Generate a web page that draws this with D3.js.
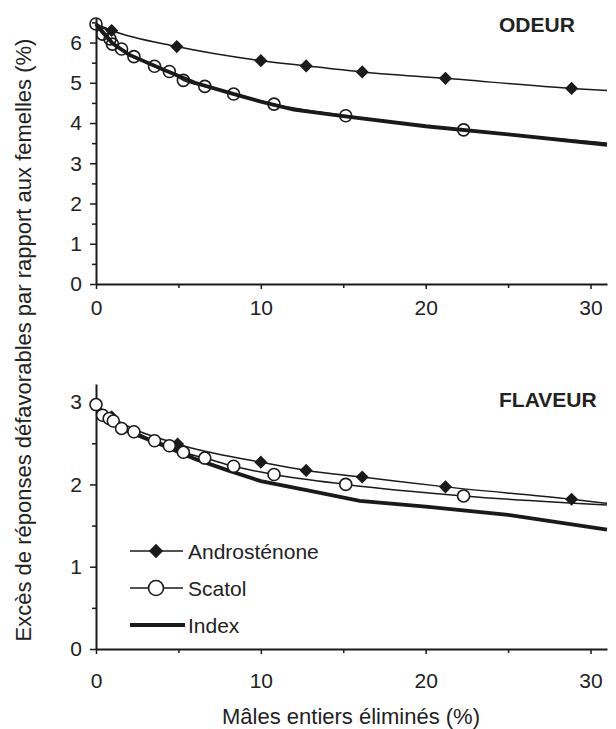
<!DOCTYPE html>
<html>
<head>
<meta charset="utf-8">
<script src="https://cdn.jsdelivr.net/npm/d3@7"></script>
<style>
  body { margin: 0; background: #fff; }
  svg text { font-family: Arial, "Liberation Sans", sans-serif; fill: #222; }
</style>
</head>
<body>
<div id="chart"></div>
<script>
// ODEUR panel: the first (x = 0) and last (x = 31) entries are curve ends
var odeurAndroX = [0, 0.95, 4.9, 10.0, 12.75, 16.15, 21.2, 28.85, 31];
var odeurAndroY = [6.46, 6.30, 5.90, 5.55, 5.42, 5.27, 5.11, 4.86, 4.81];
var odeurScatolX = [0, 0.4, 0.85, 1.0, 1.55, 2.3, 3.55, 4.45, 5.3, 6.6, 8.35, 10.8, 15.15, 22.3, 31];
var odeurScatolY = [6.46, 6.21, 6.09, 5.96, 5.84, 5.65, 5.41, 5.28, 5.06, 4.91, 4.72, 4.47, 4.18, 3.83, 3.50];
var odeurIndexX = [0, 1, 2, 4, 6, 8, 10, 12, 15, 20, 25, 31];
var odeurIndexY = [6.46, 5.98, 5.70, 5.34, 5.00, 4.76, 4.53, 4.33, 4.17, 3.92, 3.72, 3.46];

// FLAVEUR panel
var flavAndroX = [0, 0.95, 4.95, 10.0, 12.75, 16.15, 21.2, 28.85, 31];
var flavAndroY = [2.96, 2.82, 2.49, 2.27, 2.17, 2.09, 1.97, 1.82, 1.77];
var flavScatolX = [0, 0.4, 0.8, 1.05, 1.55, 2.3, 3.55, 4.45, 5.3, 6.6, 8.35, 10.8, 15.15, 22.3, 31];
var flavScatolY = [2.97, 2.84, 2.80, 2.77, 2.68, 2.64, 2.53, 2.47, 2.39, 2.32, 2.22, 2.12, 2.00, 1.86, 1.75];
var flavIndexX = [0, 1, 2, 4, 6, 8, 10, 13, 16, 20, 25, 31];
var flavIndexY = [2.96, 2.77, 2.64, 2.48, 2.31, 2.17, 2.04, 1.92, 1.80, 1.73, 1.63, 1.45];

var xTicks = [0, 10, 20, 30];
var xMinor = [5, 15, 25];
var odeurTicks = [0, 1, 2, 3, 4, 5, 6];
var flavTicks = [0, 1, 2, 3];
var seriesNames = ["Androsténone", "Scatol", "Index"];

var width = 616, height = 729;
var ink = "#1a1a1a";

var svg = d3.select("#chart").append("svg")
    .attr("width", width)
    .attr("height", height);

var x = d3.scaleLinear().domain([0, 31]).range([96, 607]);

function zip(xs, ys) {
    return xs.map(function (v, i) { return { x: v, y: ys[i] }; });
}

function drawPanel(opts) {
    var y = d3.scaleLinear().domain([0, opts.yMax]).range([opts.bottom, opts.top]);
    var g = svg.append("g");

    // minor ticks at the half units
    var minorY = d3.range(0.5, opts.yMax, 1);
    g.append("g")
        .attr("transform", "translate(96,0)")
        .call(d3.axisLeft(y).tickValues(minorY).tickSize(4).tickFormat(""))
        .call(function (a) { a.select(".domain").remove(); });

    var ya = g.append("g")
        .attr("transform", "translate(96,0)")
        .call(d3.axisLeft(y).tickValues(opts.ticks).tickSize(6).tickSizeOuter(0).tickPadding(8).tickFormat(d3.format("d")));
    ya.selectAll("text").style("font-size", "21px");

    g.append("g")
        .attr("transform", "translate(0," + opts.bottom + ")")
        .call(d3.axisBottom(x).tickValues(xMinor).tickSize(4).tickFormat(""))
        .call(function (a) { a.select(".domain").remove(); });

    var xa = g.append("g")
        .attr("transform", "translate(0," + opts.bottom + ")")
        .call(d3.axisBottom(x).tickValues(xTicks).tickSize(5).tickSizeOuter(0).tickPadding(opts.xPad));
    xa.selectAll("text").style("font-size", "21px");

    g.selectAll(".domain").attr("stroke", ink).attr("stroke-width", 2);
    g.selectAll(".tick line").attr("stroke", ink).attr("stroke-width", 1.5);

    var smooth = d3.line().x(function (d) { return x(d.x); }).y(function (d) { return y(d.y); })
        .curve(d3.curveMonotoneX);
    var straight = d3.line().x(function (d) { return x(d.x); }).y(function (d) { return y(d.y); });

    var andro = zip(opts.andro[0], opts.andro[1]);
    var scatol = zip(opts.scatol[0], opts.scatol[1]);
    var index = zip(opts.index[0], opts.index[1]);

    g.append("path").datum(andro).attr("d", smooth)
        .attr("fill", "none").attr("stroke", ink).attr("stroke-width", 1.5);
    g.append("path").datum(scatol).attr("d", smooth)
        .attr("fill", "none").attr("stroke", ink).attr("stroke-width", 1.5);
    g.append("path").datum(index).attr("d", straight)
        .attr("fill", "none").attr("stroke", ink).attr("stroke-width", 3.8);

    // diamonds (skip curve ends)
    g.selectAll(".dia").data(andro.slice(1, -1)).enter().append("path")
        .attr("d", d3.symbol().type(d3.symbolDiamond2).size(110))
        .attr("transform", function (d) { return "translate(" + x(d.x) + "," + y(d.y) + ")"; })
        .attr("fill", ink);

    // circles (skip last curve end)
    g.selectAll(".circ").data(scatol.slice(0, -1)).enter().append("circle")
        .attr("cx", function (d) { return x(d.x); })
        .attr("cy", function (d) { return y(d.y); })
        .attr("r", 6)
        .attr("fill", opts.circleFill)
        .attr("stroke", ink)
        .attr("stroke-width", 1.6);

    g.append("text")
        .attr("x", 499)
        .attr("y", opts.titleY)
        .style("font-size", "21px")
        .style("font-weight", "bold")
        .text(opts.title);

    return y;
}

drawPanel({
    title: "ODEUR", titleY: 32, yMax: 6.6, top: 18.4, bottom: 284, ticks: odeurTicks, xPad: 11,
    andro: [odeurAndroX, odeurAndroY], scatol: [odeurScatolX, odeurScatolY], index: [odeurIndexX, odeurIndexY],
    circleFill: "none"
});

drawPanel({
    title: "FLAVEUR", titleY: 407, yMax: 3.22, top: 384, bottom: 649, ticks: flavTicks, xPad: 19,
    andro: [flavAndroX, flavAndroY], scatol: [flavScatolX, flavScatolY], index: [flavIndexX, flavIndexY],
    circleFill: "#fff"
});

// legend
var legend = svg.append("g");
var legendY = [551, 588, 625];
seriesNames.forEach(function (name, i) {
    var row = legend.append("g").attr("transform", "translate(0," + legendY[i] + ")");
    if (i === 2) {
        row.append("line").attr("x1", 130).attr("x2", 185).attr("y1", 0).attr("y2", 0)
            .attr("stroke", ink).attr("stroke-width", 4);
    } else {
        row.append("line").attr("x1", 130).attr("x2", 183).attr("y1", 0).attr("y2", 0)
            .attr("stroke", ink).attr("stroke-width", 1.5);
    }
    if (i === 0) {
        row.append("path").attr("d", d3.symbol().type(d3.symbolDiamond2).size(130))
            .attr("transform", "translate(156,0)").attr("fill", ink);
    } else if (i === 1) {
        row.append("circle").attr("cx", 156).attr("cy", 0).attr("r", 7.5)
            .attr("fill", "#fff").attr("stroke", ink).attr("stroke-width", 1.6);
    }
    row.append("text").attr("x", 188).attr("y", 7.5)
        .style("font-size", "21px").text(name);
});

// axis titles
svg.append("text")
    .attr("x", 351)
    .attr("y", 724)
    .attr("text-anchor", "middle")
    .style("font-size", "22px")
    .text("Mâles entiers éliminés (%)");

svg.append("text")
    .attr("transform", "translate(31,340) rotate(-90)")
    .attr("text-anchor", "middle")
    .style("font-size", "22px")
    .text("Excès de réponses défavorables par rapport aux femelles (%)");
</script>
</body>
</html>
